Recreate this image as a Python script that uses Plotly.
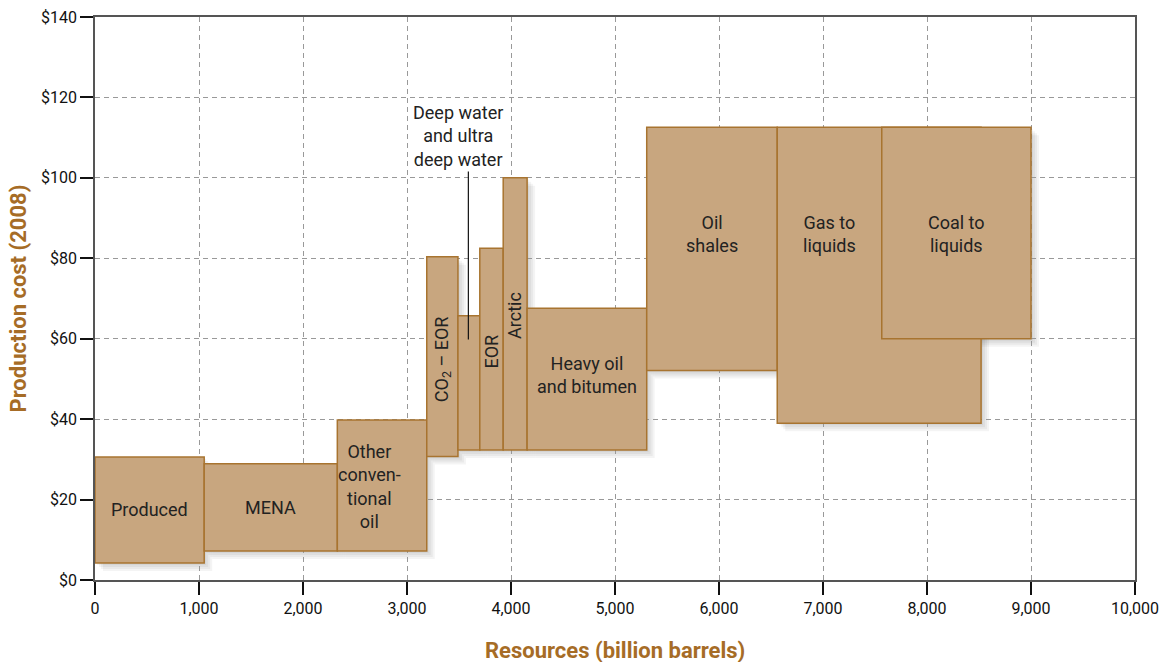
import plotly.graph_objects as go

# ---- data ----
names = ["Produced", "MENA", "Other<br>conven-<br>tional<br>oil", "CO<sub>2</sub> – EOR",
         "", "EOR", "Arctic", "Heavy oil<br>and bitumen", "Oil<br>shales",
         "Gas to<br>liquids", "Coal to<br>liquids"]
x_start = [0, 1050, 2330, 3190, 3490, 3700, 3925, 4155, 5305, 6560, 7565]
x_end   = [1050, 2330, 3190, 3490, 3700, 3925, 4155, 5305, 6560, 8520, 9000]
cost_low  = [4.2, 7.2, 7.2, 30.7, 32.3, 32.3, 32.3, 32.3, 52.1, 39.0, 60.0]
cost_high = [30.6, 28.9, 39.8, 80.4, 65.7, 82.5, 100.0, 67.6, 112.6, 112.6, 112.6]
label_x = [520, 1690, 2635, 3340, None, 3813, 4040, 4735, 5930, 7062, 8280]
label_y = [17.6, 18.0, 23.2, 55.0, None, 56.7, 65.7, 51.0, 86.0, 86.0, 86.0]
label_angle = [0, 0, 0, -90, 0, -90, -90, 0, 0, 0, 0]

x_ticks = list(range(0, 10001, 1000))
x_ticklabels = ["0"] + [f"{v:,}" for v in x_ticks[1:]]
y_ticks = list(range(0, 141, 20))
y_ticklabels = [f"${v}" for v in y_ticks]

deep_label = "Deep water<br>and ultra<br>deep water"
deep_line_x = 3590
deep_line_y = [59.8, 102.0]

x_title = "Resources (billion barrels)"
y_title = "Production cost (2008)"

# ---- layout geometry ----
W, H = 1168, 662
ML, MR, MT, MB = 95, 33, 17, 82
XR = [0, 10000]
YR = [0, 140]
px_x = (XR[1] - XR[0]) / (W - ML - MR)
px_y = (YR[1] - YR[0]) / (H - MT - MB)

FONT = "Roboto, Liberation Sans Narrow, sans-serif"
FILL = "rgb(200,166,127)"
EDGE = "rgb(168,116,48)"
BROWN = "rgb(166,108,38)"

fig = go.Figure()
shapes = []

# soft drop shadows
for i in range(len(x_start)):
    for k, off in enumerate([2, 4, 6, 8]):
        shapes.append(dict(
            type="rect", xref="x", yref="y", layer="below",
            x0=x_start[i] + off * px_x, x1=x_end[i] + off * px_x,
            y0=cost_low[i] - off * px_y, y1=cost_high[i] - off * px_y,
            fillcolor="rgba(0,0,0,0.045)", line=dict(width=0)))

# boxes
for i in range(len(x_start)):
    shapes.append(dict(
        type="rect", xref="x", yref="y", layer="above",
        x0=x_start[i], x1=x_end[i], y0=cost_low[i], y1=cost_high[i],
        fillcolor=FILL, line=dict(color=EDGE, width=1.5)))

# leader line for deep water
shapes.append(dict(type="line", xref="x", yref="y", layer="above",
                   x0=deep_line_x, x1=deep_line_x, y0=deep_line_y[0], y1=deep_line_y[1],
                   line=dict(color="#111", width=1.2)))

annotations = []
for i in range(len(names)):
    if not names[i]:
        continue
    annotations.append(dict(
        x=label_x[i], y=label_y[i], xref="x", yref="y", text=names[i],
        showarrow=False, textangle=label_angle[i],
        font=dict(family=FONT, size=18, color="#222")))

annotations.append(dict(
    x=deep_line_x - 100, y=deep_line_y[1] - 0.5, xref="x", yref="y",
    text=deep_label, showarrow=False, yanchor="bottom", xanchor="center",
    font=dict(family=FONT, size=18, color="#222"), bgcolor="white"))

# axis titles
annotations.append(dict(x=0.5, y=-0.126, xref="paper", yref="paper",
                        xanchor="center", yanchor="middle",
                        text=f"<b>{x_title}</b>", showarrow=False,
                        font=dict(family=FONT, size=22, color=BROWN)))
annotations.append(dict(x=-0.074, y=0.5, xref="paper", yref="paper",
                        xanchor="center", yanchor="middle",
                        text=f"<b>{y_title}</b>", showarrow=False, textangle=-90,
                        font=dict(family=FONT, size=22, color=BROWN)))

# invisible trace so axes render
fig.add_trace(go.Scatter(x=[XR[0], XR[1]], y=[YR[0], YR[1]], mode="markers",
                         marker=dict(opacity=0), hoverinfo="skip", showlegend=False))

axis_common = dict(
    showline=True, linecolor="#555", linewidth=1.5, mirror=True,
    ticks="outside", ticklen=13, tickwidth=2, tickcolor="#111",
    showgrid=True, gridcolor="#999", griddash="5px,4px", gridwidth=1,
    zeroline=False, automargin=False,
    tickfont=dict(family=FONT, size=16, color="#111"),
)

fig.update_layout(
    width=W, height=H,
    margin=dict(l=ML, r=MR, t=MT, b=MB),
    paper_bgcolor="white", plot_bgcolor="white",
    shapes=shapes, annotations=annotations,
    xaxis=dict(range=XR, tickvals=x_ticks, ticktext=x_ticklabels, **axis_common),
    yaxis=dict(range=YR, tickvals=y_ticks, ticktext=y_ticklabels, **axis_common),
)

fig.write_html("out.html", config={"displayModeBar": False},
               post_script="document.body.style.margin='0';")
